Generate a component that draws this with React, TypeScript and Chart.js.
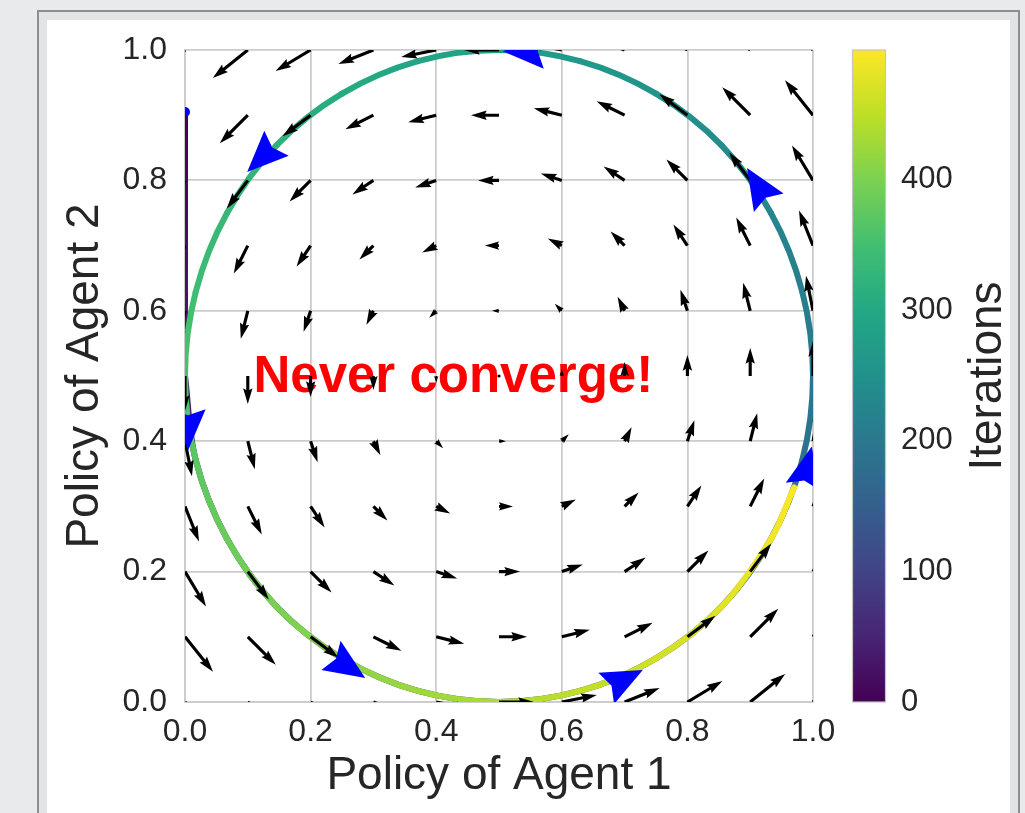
import React, { useEffect, useRef } from "react";
import { Chart, registerables } from "chart.js";

Chart.register(...registerables);

// ---------------- data ----------------
const axisTicks = [0, 0.2, 0.4, 0.6, 0.8, 1.0];
const colorbarTicks = [0, 100, 200, 300, 400];
const ITER_MAX = 499;

// trajectory: start (clamped descent along the left edge)
const startIter = [0, 20, 40];
const startX = [0, 0, 0];
const startY = [0.9, 0.7, 0.5];

// trajectory: cycle (first half lap 40..200, then second lap 200..499)
const cycleIter = [40, 53, 67, 80, 93, 107, 120, 133, 147, 160, 173, 187, 200,
  213, 226, 240, 253, 266, 279, 292, 306, 319, 332, 345, 358, 372, 385, 398, 411, 424, 438, 451, 464, 477, 490, 499];
const cycleX = [0.0, 0.017, 0.067, 0.146, 0.25, 0.371, 0.5, 0.629, 0.75, 0.854, 0.933, 0.983, 1.0,
  0.983, 0.933, 0.854, 0.75, 0.629, 0.5, 0.371, 0.25, 0.146, 0.067, 0.017, 0.0, 0.017, 0.067, 0.146, 0.25, 0.371, 0.5, 0.629, 0.75, 0.854, 0.933, 0.970];
const cycleY = [0.5, 0.371, 0.25, 0.146, 0.067, 0.017, 0.0, 0.017, 0.067, 0.146, 0.25, 0.371, 0.5,
  0.629, 0.75, 0.854, 0.933, 0.983, 1.0, 0.983, 0.933, 0.854, 0.75, 0.629, 0.5, 0.371, 0.25, 0.146, 0.067, 0.017, 0.0, 0.017, 0.067, 0.146, 0.25, 0.329];

// quiver grid (arrow tails) and vector components
const quiverX = [0, 0.1, 0.2, 0.3, 0.4, 0.5, 0.6, 0.7, 0.8, 0.9, 1.0];
const quiverY = [0, 0.1, 0.2, 0.3, 0.4, 0.5, 0.6, 0.7, 0.8, 0.9, 1.0];
const quiverUByRow = [0.5, 0.4, 0.3, 0.2, 0.1, 0, -0.1, -0.2, -0.3, -0.4, -0.5];
const quiverVByCol = [-0.5, -0.4, -0.3, -0.2, -0.1, 0, 0.1, 0.2, 0.3, 0.4, 0.5];
const QUIVER_SCALE = 0.1115;

// blue direction arrowheads (tip position and direction)
const blueTipX = [0.099, 0.506, 0.895, 0.005, 0.287, 0.729, 0.998];
const blueTipY = [0.813, 0.998, 0.819, 0.386, 0.037, 0.049, 0.392];
const blueDirX = [-0.716, -1.0, -0.53, 0.0, 0.836, 0.893, 0.217];
const blueDirY = [-0.698, 0.0, 0.85, -1.0, -0.549, 0.45, 0.976];
const startMarker = { x: 0, y: 0.905 };

const annotationText = "Never converge!";
const annotationX = 0.109;
const annotationY = 0.4755;

const xTitle = "Policy of Agent 1";
const yTitle = "Policy of Agent 2";
const cbTitle = "Iterations";

// ---------------- styles ----------------
const FONT = "'Liberation Sans', Arial, Helvetica, sans-serif";
const TEXT = "#262626";
const GRID = "#cccccc";
const VIRIDIS = ["#440154", "#482475", "#414487", "#355f8d", "#2a788e", "#21918c", "#22a884", "#42be71", "#7ad151", "#bddf26", "#fde725"];

function hexToRgb(h: string) {
  return [parseInt(h.slice(1, 3), 16), parseInt(h.slice(3, 5), 16), parseInt(h.slice(5, 7), 16)];
}
const VIR_RGB = VIRIDIS.map(hexToRgb);
function viridis(t: number) {
  const c = Math.max(0, Math.min(1, t)) * (VIR_RGB.length - 1);
  const i = Math.min(VIR_RGB.length - 2, Math.floor(c));
  const f = c - i;
  const a = VIR_RGB[i], b = VIR_RGB[i + 1];
  const r = Math.round(a[0] + (b[0] - a[0]) * f);
  const g = Math.round(a[1] + (b[1] - a[1]) * f);
  const bl = Math.round(a[2] + (b[2] - a[2]) * f);
  return `rgb(${r},${g},${bl})`;
}

function segColor(c: any) {
  const ds = c.chart.data.datasets[c.datasetIndex];
  const d0 = ds.data[c.p0DataIndex];
  const d1 = ds.data[c.p1DataIndex];
  const g = c.chart.ctx.createLinearGradient(c.p0.x, c.p0.y, c.p1.x + 0.01, c.p1.y + 0.01);
  g.addColorStop(0, viridis(d0.it / ITER_MAX));
  g.addColorStop(1, viridis(d1.it / ITER_MAX));
  return g;
}

function drawQuiverArrow(ctx: CanvasRenderingContext2D, tx: number, ty: number, vx: number, vy: number) {
  const w = 3.14;
  const hl = 5 * w, hal = 4.5 * w, hw = 3 * w;
  const L = Math.hypot(vx, vy);
  if (L < w) {
    ctx.beginPath();
    ctx.arc(tx, ty, 1.6, 0, Math.PI * 2);
    ctx.fill();
    return;
  }
  let s = 1;
  let len = L;
  if (L < hl) {
    s = L / hl;
    len = hl;
  }
  const pts = [[0, -w / 2], [len - hal, -w / 2], [len - hl, -hw / 2], [len, 0], [len - hl, hw / 2], [len - hal, w / 2], [0, w / 2]];
  const ux = vx / L, uy = vy / L;
  const nx = -uy, ny = ux;
  ctx.beginPath();
  pts.forEach(([a, b], i) => {
    const px = tx + s * (a * ux + b * nx);
    const py = ty + s * (a * uy + b * ny);
    if (i === 0) ctx.moveTo(px, py);
    else ctx.lineTo(px, py);
  });
  ctx.closePath();
  ctx.fill();
}

function drawBlueHead(ctx: CanvasRenderingContext2D, tx: number, ty: number, dx: number, dy: number) {
  const L = 41, hw = 17.5, notch = 6;
  const m = Math.hypot(dx, dy);
  const ux = dx / m, uy = dy / m;
  const nx = -uy, ny = ux;
  const bx = tx - L * ux, by = ty - L * uy;
  ctx.beginPath();
  ctx.moveTo(tx, ty);
  ctx.lineTo(bx + hw * nx, by + hw * ny);
  ctx.lineTo(bx + notch * ux, by + notch * uy);
  ctx.lineTo(bx - hw * nx, by - hw * ny);
  ctx.closePath();
  ctx.fill();
}

const overlayPlugin = {
  id: "overlay",
  beforeDatasetsDraw(chart: any) {
    const { ctx, chartArea: a, scales } = chart;
    const x = scales.x, y = scales.y, cb = scales.cb;
    ctx.save();
    // annotation text
    ctx.font = `bold 51px ${FONT}`;
    ctx.fillStyle = "#ff0000";
    ctx.textAlign = "left";
    ctx.textBaseline = "alphabetic";
    ctx.fillText(annotationText, x.getPixelForValue(annotationX), y.getPixelForValue(annotationY));

    // colorbar
    const top = cb.getPixelForValue(ITER_MAX);
    const bottom = cb.getPixelForValue(0);
    const left = a.right + 39.5;
    const width = 33;
    const g = ctx.createLinearGradient(0, bottom, 0, top);
    VIRIDIS.forEach((c, i) => g.addColorStop(i / (VIRIDIS.length - 1), c));
    ctx.fillStyle = g;
    ctx.fillRect(left, top, width, bottom - top);
    ctx.strokeStyle = "#c4c4c4";
    ctx.lineWidth = 1.2;
    ctx.strokeRect(left, top, width, bottom - top);

    // colorbar title
    ctx.translate(a.right + 175, (top + bottom) / 2);
    ctx.rotate(-Math.PI / 2);
    ctx.font = `46px ${FONT}`;
    ctx.fillStyle = TEXT;
    ctx.textAlign = "center";
    ctx.textBaseline = "middle";
    ctx.fillText(cbTitle, 0, 0);
    ctx.restore();
  },
  afterDatasetsDraw(chart: any) {
    const { ctx, chartArea: a, scales } = chart;
    const x = scales.x, y = scales.y;
    const pxPerUnit = x.getPixelForValue(1) - x.getPixelForValue(0);
    ctx.save();
    ctx.beginPath();
    ctx.rect(a.left, a.top, a.right - a.left, a.bottom - a.top);
    ctx.clip();

    // quiver
    ctx.fillStyle = "#000000";
    quiverY.forEach((qy, r) => {
      quiverX.forEach((qx, c) => {
        const tx = x.getPixelForValue(qx);
        const ty = y.getPixelForValue(qy);
        const vx = quiverUByRow[r] * QUIVER_SCALE * pxPerUnit;
        const vy = -quiverVByCol[c] * QUIVER_SCALE * pxPerUnit;
        drawQuiverArrow(ctx, tx, ty, vx, vy);
      });
    });

    // blue arrowheads
    ctx.fillStyle = "#0000ff";
    blueTipX.forEach((bx, i) => {
      const tx = x.getPixelForValue(bx);
      const ty = y.getPixelForValue(blueTipY[i]);
      drawBlueHead(ctx, tx, ty, blueDirX[i], -blueDirY[i]);
    });

    // start marker
    ctx.beginPath();
    ctx.arc(x.getPixelForValue(startMarker.x), y.getPixelForValue(startMarker.y), 5, 0, Math.PI * 2);
    ctx.fill();
    ctx.restore();
  },
};

function noPad(s: any) {
  s.paddingTop = 0;
  s.paddingBottom = 0;
  s.paddingLeft = 0;
  s.paddingRight = 0;
}

export default function App() {
  const ref = useRef<HTMLCanvasElement>(null);

  useEffect(() => {
    const canvas = ref.current;
    if (!canvas) return;
    const startData = startIter.map((it, i) => ({ x: startX[i], y: startY[i], it }));
    const cycleData = cycleIter.map((it, i) => ({ x: cycleX[i], y: cycleY[i], it }));

    const tickFont = { family: FONT, size: 32 };
    const titleFont = { family: FONT, size: 46 };

    const chart = new Chart(canvas, {
      type: "line",
      data: {
        datasets: [
          {
            data: cycleData as any,
            borderWidth: 6,
            borderColor: "#21918c",
            tension: 0.34,
            pointRadius: 0,
            borderCapStyle: "round",
            borderJoinStyle: "round",
            fill: false,
            clip: 0,
            segment: { borderColor: segColor },
          } as any,
          {
            data: startData as any,
            borderWidth: 6,
            borderColor: "#440154",
            tension: 0,
            pointRadius: 0,
            borderCapStyle: "round",
            fill: false,
            clip: 0,
            segment: { borderColor: segColor },
          } as any,
        ],
      },
      options: {
        responsive: false,
        maintainAspectRatio: false,
        animation: false,
        devicePixelRatio: 1,
        layout: { autoPadding: false, padding: { top: 50, left: 0, right: 0, bottom: 0 } },
        plugins: { legend: { display: false }, tooltip: { enabled: false } },
        scales: {
          x: {
            type: "linear",
            position: "bottom",
            min: 0,
            max: 1,
            afterBuildTicks: (s: any) => {
              s.ticks = axisTicks.map((v) => ({ value: v }));
            },
            afterFit: (s: any) => {
              s.height = 111;
              noPad(s);
            },
            grid: { color: GRID, lineWidth: 1.8, drawTicks: false },
            border: { display: true, color: GRID, width: 1.8 },
            ticks: {
              font: tickFont,
              color: TEXT,
              padding: 11,
              maxRotation: 0,
              autoSkip: false,
              callback: (v: any) => Number(v).toFixed(1),
            },
            title: { display: true, text: xTitle, font: titleFont, color: TEXT, padding: { top: 0, bottom: 9 } },
          },
          y: {
            type: "linear",
            position: "left",
            min: 0,
            max: 1,
            afterBuildTicks: (s: any) => {
              s.ticks = axisTicks.map((v) => ({ value: v }));
            },
            afterFit: (s: any) => {
              s.width = 185;
              noPad(s);
            },
            grid: { color: GRID, lineWidth: 1.8, drawTicks: false },
            border: { display: true, color: GRID, width: 1.8 },
            ticks: {
              font: tickFont,
              color: TEXT,
              padding: 18,
              autoSkip: false,
              callback: (v: any) => Number(v).toFixed(1),
            },
            title: { display: true, text: yTitle, font: titleFont, color: TEXT, padding: { top: 58, bottom: 0 } },
          },
          cb: {
            type: "linear",
            axis: "y",
            position: "right",
            min: 0,
            max: ITER_MAX,
            afterBuildTicks: (s: any) => {
              s.ticks = colorbarTicks.map((v) => ({ value: v }));
            },
            afterFit: (s: any) => {
              s.width = 212;
              noPad(s);
            },
            grid: { display: false, drawTicks: false },
            border: { display: false },
            ticks: {
              font: { family: FONT, size: 31 },
              color: TEXT,
              padding: 88,
              autoSkip: false,
              callback: (v: any) => String(v),
            },
          },
        } as any,
      },
      plugins: [overlayPlugin as any],
    });
    return () => chart.destroy();
  }, []);

  return (
    <div style={{ position: "absolute", left: 0, top: 0, width: 1025, height: 813, overflow: "hidden", background: "#e9eaeb" }}>
      <div
        style={{
          position: "absolute",
          left: 37,
          top: 10,
          width: 983,
          height: 900,
          boxSizing: "border-box",
          border: "2px solid #8e8e8e",
          background: "#e1e3e4",
        }}
      />
      <div style={{ position: "absolute", left: 47, top: 20, width: 963, height: 900, background: "#ffffff" }} />
      <canvas
        ref={ref}
        width={1025}
        height={813}
        style={{ position: "absolute", left: 0, top: 0, width: 1025, height: 813, display: "block" }}
      />
    </div>
  );
}
